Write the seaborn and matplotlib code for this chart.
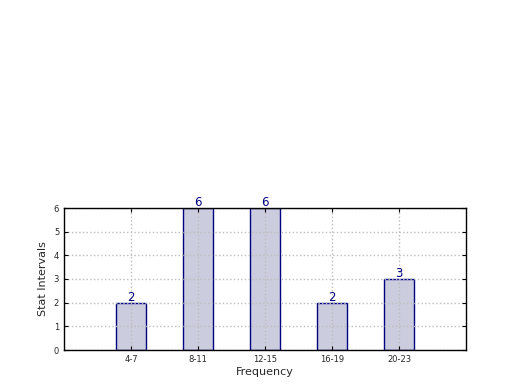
import matplotlib
matplotlib.use("Agg")
import matplotlib.pyplot as plt
import seaborn as sns
import pandas as pd

categories = ["4-7", "8-11", "12-15", "16-19", "20-23"]
counts = [2, 6, 6, 2, 3]

sns.set_style("white")
plt.rcParams['font.family'] = ['DejaVu Sans']

fig = plt.figure(figsize=(5.2, 3.9), dpi=100)
ax = fig.add_axes([64/520, 1-350/390, (466-64)/520, (350-208)/390])

df = pd.DataFrame({"cat": categories, "count": counts})
sns.barplot(data=df, x="cat", y="count", ax=ax, width=0.45,
            color="#ccccdf", edgecolor="#000080", linewidth=1, saturation=1)

for i, v in enumerate(counts):
    ax.text(i, v - 0.05, str(v), ha="center", va="bottom", color="#000080", fontsize=8.5)

ax.set_xlim(-1, 5)
ax.set_ylim(0, 6)
ax.set_yticks(range(0, 7))
ax.grid(True, linestyle=":", color="#bdbdbd", linewidth=1)
ax.set_axisbelow(False)
for sp in ax.spines.values():
    sp.set_visible(True)
    sp.set_color("black")
    sp.set_linewidth(1)
    sp.set_zorder(5)
ax.tick_params(axis="both", labelsize=6, direction="in", length=3, left=True, bottom=True, right=True, top=True, color="black")
ax.set_xlabel("Frequency", fontsize=8, labelpad=2)
ax.set_ylabel("Stat Intervals", fontsize=8, labelpad=4)

fig.savefig("out.png", dpi=100)
